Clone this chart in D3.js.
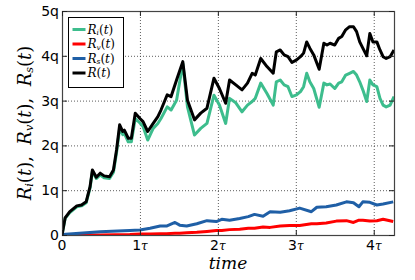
<!DOCTYPE html>
<html>
<head>
<meta charset="utf-8">
<script src="https://cdnjs.cloudflare.com/ajax/libs/d3/7.8.5/d3.min.js"></script>
<style>
  body { margin: 0; background: #fff; }
</style>
</head>
<body>
<div id="chart"></div>
<script>
// time in units of tau
const times = [0, 0.04, 0.10, 0.19, 0.25, 0.31, 0.36, 0.39, 0.44, 0.49, 0.54, 0.61, 0.66, 0.70, 0.74, 0.78, 0.80, 0.85, 0.89, 0.94,
  1.00, 1.04, 1.10, 1.17, 1.23, 1.27, 1.35, 1.40, 1.47, 1.55, 1.61, 1.70, 1.78, 1.86, 1.95, 2.02, 2.10, 2.15, 2.23, 2.31,
  2.38, 2.44, 2.48, 2.55, 2.63, 2.71, 2.75, 2.80, 2.85, 2.90, 2.95, 3.01, 3.06, 3.10, 3.14, 3.18, 3.23, 3.30, 3.36, 3.40,
  3.44, 3.50, 3.55, 3.59, 3.64, 3.69, 3.74, 3.78, 3.82, 3.86, 3.91, 3.95, 3.99, 4.04, 4.08, 4.12, 4.16, 4.21, 4.26];

const rTotal = [0, 0.38, 0.52, 0.65, 0.67, 0.74, 1.08, 1.45, 1.29, 1.38, 1.32, 1.30, 1.45, 1.90, 2.46, 2.31, 2.34, 2.16, 2.16, 2.72,
  2.60, 2.53, 2.31, 2.49, 2.64, 2.79, 3.13, 3.09, 3.46, 3.87, 3.01, 2.57, 2.72, 2.83, 3.50, 3.27, 2.94, 3.46, 3.35, 3.24,
  3.39, 3.61, 3.57, 3.94, 3.76, 3.61, 4.09, 4.13, 4.02, 3.98, 3.85, 3.91, 3.98, 4.06, 4.31, 4.17, 4.02, 3.70, 4.28, 4.24,
  4.28, 4.24, 4.39, 4.43, 4.58, 4.65, 4.65, 4.54, 4.31, 4.17, 4.00, 4.50, 4.31, 4.31, 4.13, 3.98, 3.94, 3.98, 4.13];

const rI = [0, 0.37, 0.50, 0.63, 0.65, 0.72, 1.05, 1.42, 1.26, 1.34, 1.28, 1.26, 1.40, 1.84, 2.38, 2.24, 2.27, 2.08, 2.08, 2.60,
  2.50, 2.42, 2.12, 2.38, 2.49, 2.60, 2.86, 2.79, 3.01, 3.83, 2.86, 2.23, 2.38, 2.49, 3.12, 2.90, 2.49, 3.05, 2.95, 2.75,
  2.90, 2.98, 3.05, 3.39, 3.16, 2.90, 3.42, 3.46, 3.35, 3.31, 3.09, 3.13, 3.20, 3.31, 3.61, 3.42, 3.27, 2.85, 3.39, 3.35,
  3.37, 3.27, 3.39, 3.42, 3.57, 3.61, 3.65, 3.57, 3.42, 3.24, 2.98, 3.46, 3.35, 3.31, 3.05, 2.90, 2.86, 2.90, 3.09];

const timesLow = [0, 0.49, 0.87, 1.00, 1.13, 1.26, 1.34, 1.45, 1.51, 1.60, 1.73, 1.86, 1.98, 2.05, 2.15, 2.28, 2.39, 2.47,
  2.58, 2.67, 2.80, 2.92, 3.05, 3.20, 3.27, 3.39, 3.52, 3.65, 3.74, 3.81, 3.86, 3.95, 4.04, 4.12, 4.25];

const rS = [0.01, 0.07, 0.10, 0.11, 0.15, 0.20, 0.20, 0.28, 0.22, 0.20, 0.25, 0.32, 0.30, 0.35, 0.33, 0.37, 0.41, 0.46,
  0.42, 0.52, 0.51, 0.54, 0.60, 0.52, 0.62, 0.63, 0.67, 0.74, 0.72, 0.63, 0.74, 0.73, 0.67, 0.69, 0.74];

const rV = [0, 0, 0.01, 0.02, 0.02, 0.03, 0.03, 0.04, 0.04, 0.05, 0.06, 0.08, 0.10, 0.10, 0.12, 0.13, 0.15, 0.15,
  0.18, 0.17, 0.20, 0.21, 0.21, 0.25, 0.25, 0.27, 0.31, 0.32, 0.28, 0.33, 0.33, 0.31, 0.32, 0.35, 0.30];

const yTicks = [0, 1, 2, 3, 4, 5];
const yTickLabels = ["0", "1q", "2q", "3q", "4q", "5q"];
const xTicks = [0, 1, 2, 3, 4];
const xTickLabels = ["0", "1", "2", "3", "4"];

const seriesNames = ["i", "v", "s", ""];
const seriesColors = ["#3dbd8d", "#ff0000", "#1f5fa6", "#000000"];

const width = 415;
const height = 280;
const margin = { top: 11, right: 21, bottom: 45, left: 62 };
const plotW = width - margin.left - margin.right;
const plotH = height - margin.top - margin.bottom;

const svg = d3
  .select("#chart")
  .append("svg")
  .attr("width", width)
  .attr("height", height);

const x = d3.scaleLinear().domain([0, 4.26]).range([margin.left, margin.left + plotW]);
const y = d3.scaleLinear().domain([0, 5]).range([margin.top + plotH, margin.top]);

svg.append("clipPath")
  .attr("id", "plot-clip")
  .append("rect")
  .attr("x", margin.left)
  .attr("y", margin.top)
  .attr("width", plotW)
  .attr("height", plotH);

// grid
const grid = svg.append("g").attr("stroke", "#333").attr("stroke-width", 0.8).attr("stroke-dasharray", "1,2");
grid.selectAll(".gx")
  .data(xTicks.slice(1))
  .join("line")
  .attr("x1", (d) => x(d) + 0.5)
  .attr("x2", (d) => x(d) + 0.5)
  .attr("y1", margin.top)
  .attr("y2", margin.top + plotH);
grid.selectAll(".gy")
  .data(yTicks.slice(1, -1))
  .join("line")
  .attr("x1", margin.left)
  .attr("x2", margin.left + plotW)
  .attr("y1", (d) => y(d) + 0.5)
  .attr("y2", (d) => y(d) + 0.5);

// curves
const plot = svg.append("g").attr("clip-path", "url(#plot-clip)");
const line = d3.line().x((d) => x(d[0])).y((d) => y(d[1]));
const curves = [
  d3.zip(times, rI),
  d3.zip(timesLow, rV),
  d3.zip(timesLow, rS),
  d3.zip(times, rTotal),
];
plot.selectAll("path")
  .data(curves)
  .join("path")
  .attr("d", line)
  .attr("fill", "none")
  .attr("stroke", (d, i) => seriesColors[i])
  .attr("stroke-width", 3)
  .attr("stroke-linejoin", "round");

// frame
svg.append("rect")
  .attr("x", margin.left + 0.5)
  .attr("y", margin.top + 0.5)
  .attr("width", plotW)
  .attr("height", plotH)
  .attr("fill", "none")
  .attr("stroke", "#444")
  .attr("stroke-width", 1.2);

// ticks, inside on all sides
const xAxisB = d3.axisBottom(x).tickValues(xTicks).tickSize(-5).tickFormat("");
const xAxisT = d3.axisTop(x).tickValues(xTicks).tickSize(-5).tickFormat("");
const yAxisL = d3.axisLeft(y).tickValues(yTicks).tickSize(-5).tickFormat("");
const yAxisR = d3.axisRight(y).tickValues(yTicks).tickSize(-5).tickFormat("");
[
  [xAxisB, `translate(0,${margin.top + plotH})`],
  [xAxisT, `translate(0,${margin.top})`],
  [yAxisL, `translate(${margin.left},0)`],
  [yAxisR, `translate(${margin.left + plotW},0)`],
].forEach(([axis, tr]) => {
  const g = svg.append("g").attr("transform", tr).call(axis);
  g.select(".domain").remove();
  g.selectAll("line").attr("stroke", "#222");
});

// tick labels
svg.append("g")
  .selectAll("text")
  .data(yTicks)
  .join("text")
  .attr("x", margin.left - 3)
  .attr("y", (d) => y(d) + 5)
  .attr("text-anchor", "end")
  .attr("font-family", "DejaVu Sans")
  .attr("font-size", "14px")
  .text((d, i) => yTickLabels[i]);

const xLab = svg.append("g")
  .selectAll("text")
  .data(xTicks)
  .join("text")
  .attr("x", (d) => x(d))
  .attr("y", margin.top + plotH + 15)
  .attr("text-anchor", "middle")
  .attr("font-family", "DejaVu Sans")
  .attr("font-size", "14px");
xLab.append("tspan").text((d, i) => xTickLabels[i]);
xLab.filter((d) => d > 0)
  .append("tspan")
  .attr("font-family", "DejaVu Serif")
  .attr("font-style", "italic")
  .attr("font-size", "12px")
  .text("τ");

// axis titles
svg.append("text")
  .attr("x", margin.left + plotW / 2)
  .attr("y", 269)
  .attr("text-anchor", "middle")
  .attr("font-family", "DejaVu Serif")
  .attr("font-style", "italic")
  .attr("font-size", "17px")
  .text("time");

function rLabel(sel, sub, size) {
  sel.append("tspan").attr("font-style", "italic").text("R");
  if (sub) {
    sel.append("tspan")
      .attr("font-style", "italic")
      .attr("font-size", size * 0.62 + "px")
      .attr("dy", size * 0.13)
      .text(sub);
    sel.append("tspan").attr("dy", -size * 0.13).text("(");
  } else {
    sel.append("tspan").text("(");
  }
  sel.append("tspan").attr("font-style", "italic").text("t");
  sel.append("tspan").text(")");
}

const yTitle = svg.append("text")
  .attr("transform", `translate(31,${margin.top + plotH / 2}) rotate(-90)`)
  .attr("text-anchor", "middle")
  .attr("font-family", "DejaVu Serif")
  .attr("font-size", "18px")
  .attr("xml:space", "preserve");
["i", "v", "s"].forEach((s, k) => {
  rLabel(yTitle, s, 18);
  if (k < 2) yTitle.append("tspan").text(",  ");
});

// legend
const legend = svg.append("g").attr("transform", "translate(68.5,17.5)");
legend.append("rect")
  .attr("width", 55)
  .attr("height", 70)
  .attr("fill", "#fff")
  .attr("stroke", "#000")
  .attr("stroke-width", 1);
seriesNames.forEach((name, i) => {
  const ly = 12 + i * 14.5;
  legend.append("line")
    .attr("x1", 4)
    .attr("x2", 17)
    .attr("y1", ly)
    .attr("y2", ly)
    .attr("stroke", seriesColors[i])
    .attr("stroke-width", 3);
  const t = legend.append("text")
    .attr("x", 19)
    .attr("y", ly + 4)
    .attr("font-family", "DejaVu Serif")
    .attr("font-size", "12px");
  rLabel(t, name, 12);
});
</script>
</body>
</html>
